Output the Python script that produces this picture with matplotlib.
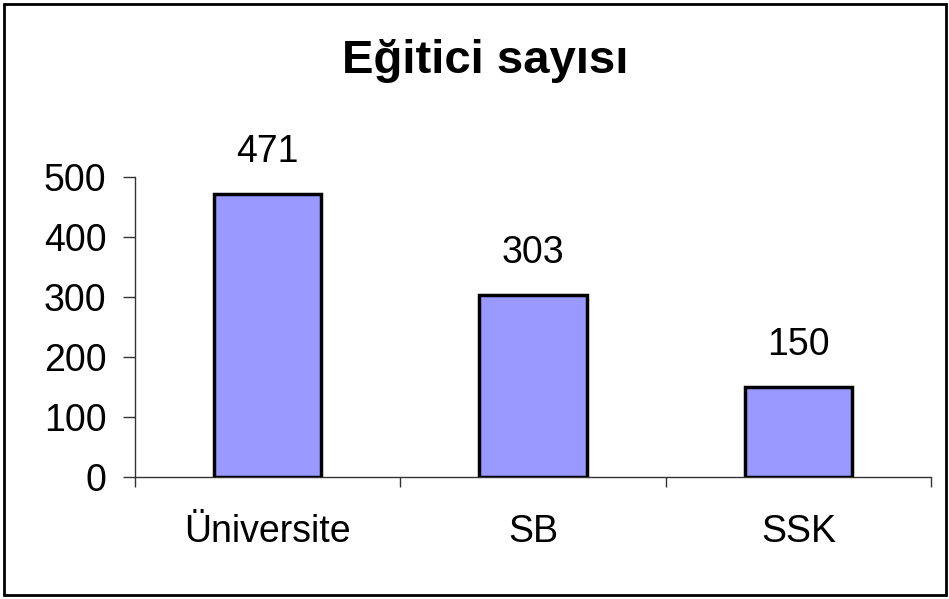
import matplotlib
matplotlib.use("Agg")
import matplotlib.pyplot as plt
from matplotlib.patches import Rectangle

categories = ["Üniversite", "SB", "SSK"]
values = [471, 303, 150]
yticks = [0, 100, 200, 300, 400, 500]
title = "Eğitici sayısı"

plt.rcParams['font.family'] = ['Liberation Sans', 'DejaVu Sans']

W, H = 949, 599
fig = plt.figure(figsize=(W / 100, H / 100), dpi=100)
ax = fig.add_axes([135 / W, (H - 477) / H, (931 - 135) / W, (477 - 177) / H])

x = list(range(len(categories)))
ax.bar(x, values, width=0.405, color="#9999FF", edgecolor="black", linewidth=2.5, zorder=3)

ax.set_xlim(-0.5, len(categories) - 0.5)
ax.set_ylim(0, 500)
ax.set_yticks(yticks)
ax.set_yticklabels([str(t) for t in yticks], fontsize=27)
ax.set_xticks(x)
ax.set_xticklabels(categories, fontsize=27)
ax.tick_params(axis='x', which='major', length=0, pad=27)
ax.set_xticks([i - 0.5 for i in range(len(categories) + 1)], minor=True)
ax.tick_params(axis='x', which='minor', length=7.5, width=1, direction='out', color='#333333')
ax.tick_params(axis='y', length=8.5, width=1, direction='out', pad=12, color='#333333')

for s in ['top', 'right']:
    ax.spines[s].set_visible(False)
for s in ['left', 'bottom']:
    ax.spines[s].set_color('#333333')
    ax.spines[s].set_linewidth(1)

for xi, v in zip(x, values):
    ax.annotate(str(v), (xi, v), xytext=(0, 23), textcoords='offset points',
                ha='center', va='baseline', fontsize=27)

fig.text(485 / W, 1 - 73 / H, title, ha='center', va='baseline', fontsize=34, fontweight='bold')

fig.patches.append(Rectangle((4 / W, 4 / H), (946 - 4) / W, (595 - 4) / H,
                             transform=fig.transFigure, fill=False, edgecolor='black', linewidth=2))

fig.savefig("out.png", dpi=100)
